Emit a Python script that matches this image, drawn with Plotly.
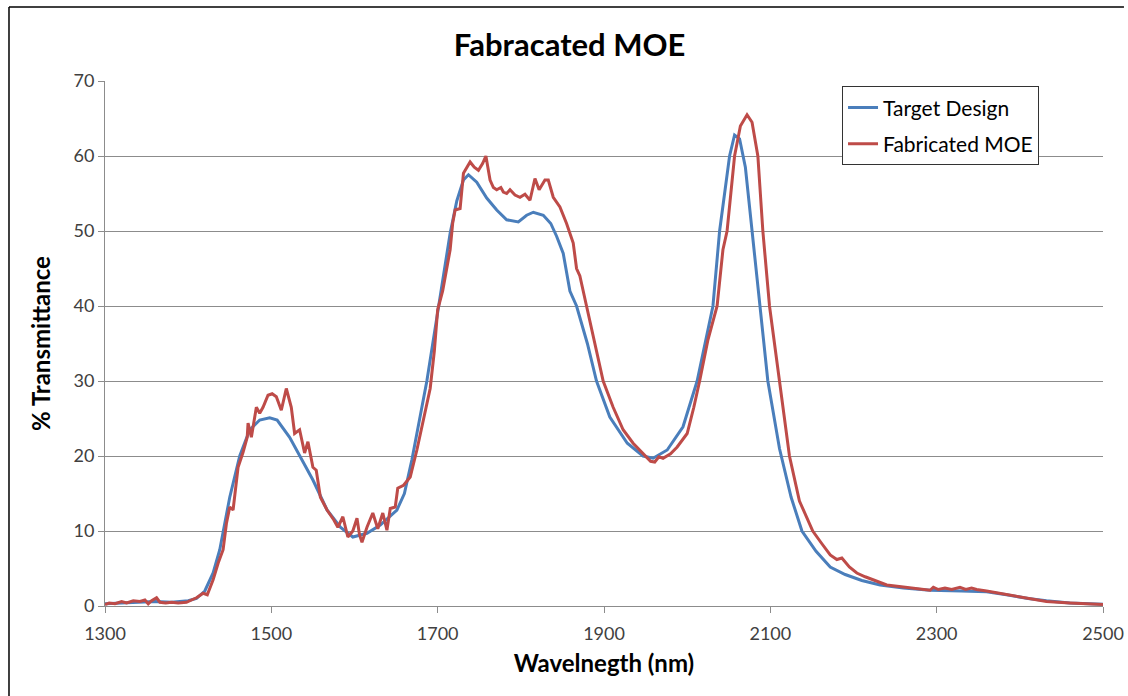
import plotly.graph_objects as go

# Target Design (blue)
wl_target = [1300, 1320, 1340, 1360, 1380, 1400, 1410, 1420, 1430, 1438, 1450, 1462, 1474, 1486, 1498,
             1507, 1522, 1534, 1550, 1567, 1583, 1598, 1615, 1631, 1651, 1660, 1669, 1687, 1701, 1709,
             1715, 1723, 1731, 1737, 1747, 1759, 1771, 1783, 1797, 1807, 1815, 1827, 1836, 1843, 1851,
             1859, 1867, 1880, 1891, 1907, 1928, 1947, 1959, 1976, 1995, 2012, 2024, 2031, 2039, 2051,
             2057, 2063, 2070, 2078, 2088, 2097, 2111, 2125, 2138, 2155, 2172, 2190, 2210, 2232, 2260,
             2292, 2330, 2360, 2384, 2410, 2432, 2460, 2500]
t_target = [0.3, 0.4, 0.5, 0.6, 0.5, 0.7, 1.0, 2.0, 4.4, 7.5, 14.5, 20.0, 23.5, 24.8, 25.1,
            24.8, 22.5, 20.0, 16.8, 12.8, 10.5, 9.2, 9.7, 10.8, 12.8, 15.0, 19.5, 30.0, 40.0, 46.0,
            49.7, 54.0, 56.8, 57.5, 56.5, 54.4, 52.8, 51.5, 51.2, 52.1, 52.5, 52.1, 51.0, 49.3, 47.0,
            42.0, 40.0, 35.0, 30.0, 25.2, 21.7, 20.0, 19.7, 20.8, 23.9, 30.0, 36.4, 40.0, 50.0, 60.0,
            62.8, 62.3, 58.5, 50.0, 40.0, 30.0, 21.0, 14.5, 10.0, 7.3, 5.2, 4.2, 3.4, 2.8, 2.4,
            2.1, 2.0, 1.9, 1.5, 1.0, 0.7, 0.4, 0.25]

# Fabricated MOE (red)
wl_fab = [1300, 1305, 1312, 1320, 1326, 1334, 1342, 1348, 1352, 1356, 1362, 1366, 1373, 1380, 1388,
          1398, 1404, 1410, 1418, 1423, 1430, 1436, 1442, 1446, 1450, 1454, 1460, 1466, 1471, 1472,
          1476, 1482, 1486, 1490, 1496, 1501, 1506, 1512, 1518, 1524, 1528, 1534, 1540, 1544, 1550,
          1554, 1559, 1567, 1575, 1580, 1586, 1592, 1598, 1603, 1606, 1609, 1615, 1622, 1628, 1634,
          1639, 1643, 1649, 1652, 1659, 1667, 1675, 1681, 1687, 1691, 1696, 1700, 1706, 1712, 1715,
          1718, 1721, 1727, 1731, 1739, 1744, 1749, 1754, 1758, 1763, 1767, 1771, 1776, 1779, 1783,
          1787, 1793, 1799, 1805, 1811, 1817, 1822, 1829, 1833, 1839, 1847, 1855, 1863, 1867, 1871,
          1879, 1889, 1899, 1911, 1923, 1935, 1943, 1952, 1956, 1961, 1966, 1971, 1980, 1988, 2000,
          2008, 2015, 2025, 2036, 2043, 2048, 2057, 2064, 2072, 2078, 2085, 2091, 2099, 2111, 2123,
          2135, 2151, 2162, 2172, 2180, 2186, 2195, 2204, 2214, 2223, 2232, 2240, 2255, 2270, 2285,
          2292, 2296, 2302, 2310, 2318, 2328, 2335, 2342, 2348, 2360, 2384, 2410, 2432, 2460, 2493,
          2500]
t_fab = [0.2, 0.4, 0.3, 0.6, 0.4, 0.7, 0.6, 0.8, 0.3, 0.7, 1.1, 0.5, 0.4, 0.5, 0.4,
         0.5, 0.8, 1.1, 1.7, 1.5, 3.5, 5.7, 7.5, 11.0, 13.2, 12.8, 18.5, 20.5, 22.5, 24.4,
         22.5, 26.5, 25.7, 26.5, 28.1, 28.3, 27.9, 26.1, 29.0, 26.5, 23.0, 23.5, 20.4, 21.9, 18.5,
         18.1, 14.5, 12.8, 11.5, 10.5, 11.9, 9.2, 10.0, 11.7, 9.5, 8.5, 10.5, 12.4, 10.3, 12.4,
         10.1, 13.0, 13.2, 15.7, 16.1, 17.2, 20.8, 24.0, 27.0, 29.0, 34.0, 39.5, 42.0, 46.0, 47.5,
         51.0, 52.8, 53.0, 57.7, 59.2, 58.5, 58.1, 59.0, 60.0, 56.8, 55.8, 55.5, 55.8, 55.2, 55.0,
         55.5, 54.8, 54.5, 54.9, 54.1, 57.0, 55.5, 56.8, 56.8, 54.5, 53.2, 51.0, 48.4, 45.0, 44.0,
         40.0, 35.0, 30.0, 26.5, 23.5, 21.7, 20.8, 19.7, 19.3, 19.2, 19.9, 19.7, 20.3, 21.2, 23.0,
         26.5, 30.0, 35.5, 40.0, 47.5, 50.0, 60.0, 64.0, 65.5, 64.5, 60.0, 50.0, 40.0, 30.0, 20.0,
         14.0, 10.0, 8.3, 6.8, 6.2, 6.4, 5.2, 4.4, 3.9, 3.5, 3.1, 2.8, 2.6, 2.4, 2.2,
         2.1, 2.5, 2.2, 2.4, 2.2, 2.5, 2.2, 2.4, 2.2, 2.0, 1.5, 1.0, 0.6, 0.4, 0.2,
         0.2]

x_ticks = [1300, 1500, 1700, 1900, 2100, 2300, 2500]
y_ticks = [0, 10, 20, 30, 40, 50, 60, 70]

FONT = "Lato"
GRID = "#8c8c8c"

fig = go.Figure()
fig.add_trace(go.Scatter(x=wl_target, y=t_target, mode="lines", name="Target Design",
                         legendgroup="a", line=dict(color="#4a7ebb", width=3)))
fig.add_trace(go.Scatter(x=wl_fab, y=t_fab, mode="lines", name="Fabricated MOE",
                         legendgroup="b", line=dict(color="#be4b48", width=3)))

fig.update_layout(
    width=1128, height=696,
    margin=dict(l=105, r=25, t=81, b=90, autoexpand=False),
    paper_bgcolor="white", plot_bgcolor="white",
    font=dict(family=FONT, color="#404040"),
    title=dict(text="<b>Fabracated MOE</b>", x=0.505, xanchor="center", xref="container",
               y=0.935, yanchor="middle", font=dict(size=31, color="#000000", family=FONT)),
    showlegend=True,
    legend=dict(x=0.7385, y=0.99, xanchor="left", yanchor="top",
                bgcolor="white", bordercolor="#333333", borderwidth=1,
                font=dict(size=21, color="#000000", family=FONT),
                itemwidth=30, tracegroupgap=6),
    xaxis=dict(range=[1300, 2500], tickvals=x_ticks, ticks="outside", ticklen=6,
               tickcolor=GRID, showline=True, linecolor=GRID, linewidth=1,
               showgrid=False, zeroline=False, ticklabelstandoff=5, automargin=False,
               tickfont=dict(size=18, color="#404040"),
               title=dict(text="<b>Wavelnegth (nm)</b>", font=dict(size=24, color="#000000"),
                          standoff=12)),
    yaxis=dict(range=[0, 70], tickvals=y_ticks, ticks="outside", ticklen=6,
               tickcolor=GRID, showline=True, linecolor=GRID, linewidth=1,
               showgrid=True, gridcolor=GRID, gridwidth=1, zeroline=False, automargin=False,
               tickfont=dict(size=18, color="#404040"),
               title=dict(text="<b>% Transmittance</b>", font=dict(size=24, color="#000000"),
                          standoff=16)),
)

# outer chart border (left and top edges)
fig.add_shape(type="line", xref="paper", yref="paper", x0=-0.0962, x1=-0.0962, y0=-0.2, y1=1.141,
              line=dict(color="#000000", width=1.5))
fig.add_shape(type="line", xref="paper", yref="paper", x0=-0.0962, x1=1.021, y0=1.141, y1=1.141,
              line=dict(color="#000000", width=1.5))

fig.write_html("out.html")
